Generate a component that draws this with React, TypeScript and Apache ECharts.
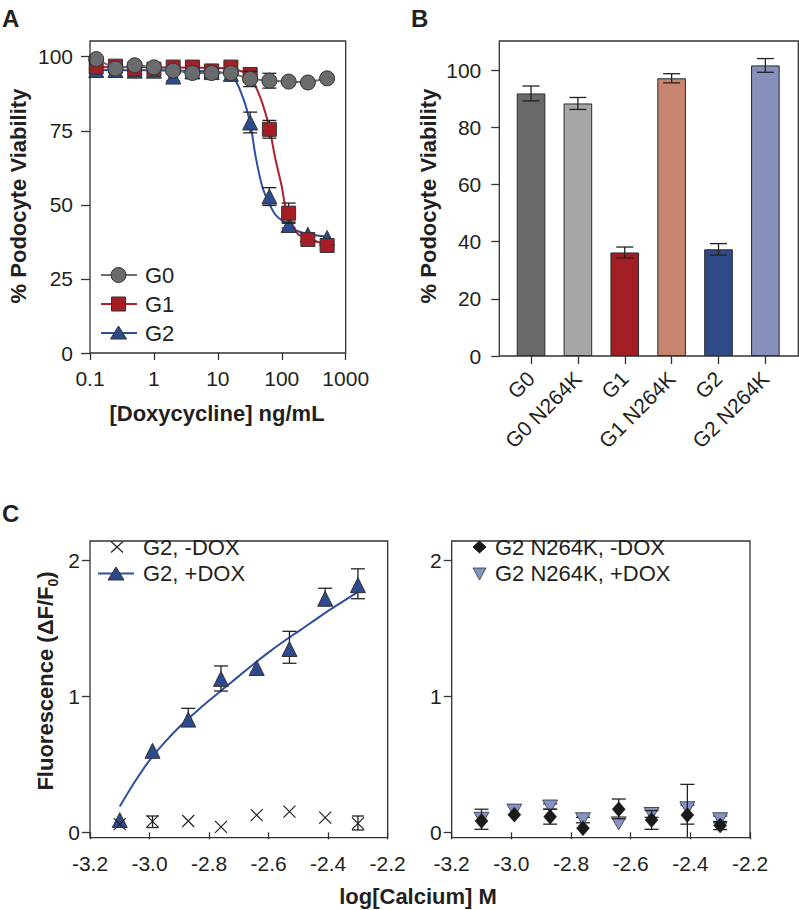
import React, { useEffect, useRef } from 'react';
import * as echarts from 'echarts';

// ---------- Panel A data ----------
const doses = [0.125, 0.25, 0.5, 1, 2, 4, 8, 16, 32, 64, 128, 256, 512];
const g0Viability = [99.2, 96.0, 97.1, 96.4, 95.3, 94.5, 94.5, 94.5, 92.5, 91.9, 91.6, 91.3, 92.7];
const g0Error = [0, 0, 0, 0, 0, 0, 0, 0, 2.6, 2.5, 0, 0, 0];
const g1Viability = [96.5, 96.8, 95.8, 95.8, 96.5, 96.5, 95.2, 96.5, 94.0, 75.5, 47.2, 38.3, 36.3];
const g1Error = [0, 0, 0, 0, 0, 0, 0, 0, 2.0, 3.0, 3.4, 0, 0];
const g2Viability = [95.5, 95.5, 95.3, 95.3, 93.3, 95.0, 94.8, 94.2, 77.8, 52.8, 43.2, 39.9, 38.8];
const g2Error = [0, 0, 0, 0, 1.5, 0, 0, 0, 3.5, 3.0, 1.0, 0, 0];
const g1FitDose = [0.1, 1, 10, 20, 32, 39, 49.5, 63, 80, 100, 114, 148, 184, 290, 512];
const g1FitViability = [96.5, 96.4, 96.2, 95.5, 93.6, 90, 84.4, 76.6, 65.2, 56.2, 49.4, 43.2, 39.9, 38.2, 36.5];
const g2FitDose = [0.1, 1, 5, 10, 16.7, 24.3, 32, 39, 49.5, 63, 80, 114, 184, 478];
const g2FitViability = [95.5, 95.4, 95.2, 94.8, 93.5, 86.6, 77.6, 66.3, 56.2, 50.6, 46.6, 43.9, 41, 39.3];
const doseTicks = ['0.1', '1', '10', '100', '1000'];

// ---------- Panel B data ----------
const bCategories = ['G0', 'G0 N264K', 'G1', 'G1 N264K', 'G2', 'G2 N264K'];
const bValues = [91.8, 88.3, 36.2, 97.1, 37.3, 101.6];
const bErrors = [2.6, 2.1, 1.9, 1.6, 2.0, 2.4];
const bColors = ['#69696b', '#a6a7a6', '#a11e25', '#c8856f', '#2e4a88', '#8690bb'];

// ---------- Panel C data ----------
const logCalcium = [-3.10, -2.99, -2.87, -2.76, -2.64, -2.53, -2.41, -2.30];
const g2NoDox = [0.06, 0.08, 0.083, 0.04, 0.127, 0.152, 0.108, 0.066];
const g2NoDoxLo = [null, 0.035, null, null, null, null, null, 0.017];
const g2NoDoxHi = [null, 0.12, null, null, null, null, null, 0.12];
const g2Dox = [0.09, 0.60, 0.83, 1.13, 1.21, 1.35, 1.72, 1.82];
const g2DoxLo = [null, null, 0.78, 1.04, null, 1.245, 1.67, 1.72];
const g2DoxHi = [null, null, 0.913, 1.225, null, 1.48, 1.797, 1.94];
const g2FitLogCa = [-3.10, -3.05, -3.00, -2.95, -2.90, -2.85, -2.80, -2.75, -2.70, -2.65, -2.60, -2.55, -2.50, -2.45, -2.40, -2.35, -2.30];
const g2FitFluor = [0.19, 0.37, 0.53, 0.66, 0.775, 0.875, 0.97, 1.06, 1.15, 1.24, 1.325, 1.405, 1.48, 1.555, 1.63, 1.70, 1.77];
const mutNoDox = [0.083, 0.13, 0.115, 0.03, 0.17, 0.09, 0.127, 0.05];
const mutNoDoxLo = [0.022, null, 0.06, null, 0.10, 0.022, -0.04, 0.02];
const mutNoDoxHi = [0.17, null, 0.17, null, 0.245, 0.16, 0.353, 0.08];
const mutDox = [0.10, 0.16, 0.19, 0.096, 0.066, 0.135, 0.177, 0.096];
const mutDoxLo = [null, null, 0.17, 0.07, null, 0.11, 0.06, 0.07];
const mutDoxHi = [null, null, 0.21, 0.11, null, 0.177, 0.20, 0.12];

const FONT = '"Liberation Sans", Arial, Helvetica, sans-serif';
const INK = '#231f20';
const AXIS = '#333333';
const TICK = 21;
const LEG = 22;
const TITLE = 22;

const zip = (xs: number[], ys: number[]) => xs.map((x, i) => [x, ys[i]]);
const errFromSym = (xs: number[], ys: number[], es: number[]) =>
  xs.map((x, i) => [x, ys[i] - es[i], ys[i] + es[i]]).filter((_, i) => es[i] > 0);
const errFromLoHi = (xs: number[], lo: (number | null)[], hi: (number | null)[]) =>
  xs.map((x, i) => [x, lo[i], hi[i]]).filter((d) => d[1] !== null && d[2] !== null);

const errRender = (capHalf: number) => (_p: any, api: any) => {
  const x = api.value(0);
  const lo = api.value(1);
  const hi = api.value(2);
  const a = api.coord([x, hi]);
  const b = api.coord([x, lo]);
  const st = { stroke: '#222', lineWidth: 1.3 };
  const children: any[] = [
    { type: 'line', shape: { x1: a[0], y1: a[1], x2: b[0], y2: b[1] }, style: st },
    { type: 'line', shape: { x1: a[0] - capHalf, y1: a[1], x2: a[0] + capHalf, y2: a[1] }, style: st },
  ];
  if (lo >= 0) {
    children.push({ type: 'line', shape: { x1: b[0] - capHalf, y1: b[1], x2: b[0] + capHalf, y2: b[1] }, style: st });
  }
  return { type: 'group', children };
};

const errSeries = (idx: number, data: any[], capHalf: number, z = 2) => ({
  type: 'custom',
  xAxisIndex: idx,
  yAxisIndex: idx,
  clip: false,
  z,
  renderItem: errRender(capHalf),
  encode: { x: 0, y: [1, 2] },
  data,
});

const tickLabel = (size = TICK) => ({ color: INK, fontSize: size, fontFamily: FONT });

const frame = (x0: number, y0: number, x1: number, y1: number) => ({
  type: 'rect',
  shape: { x: x0, y: y0, width: x1 - x0, height: y1 - y0 },
  style: { fill: 'none', stroke: AXIS, lineWidth: 1.3 },
  z: 100,
});

const txt = (text: string, x: number, y: number, size: number, opts: any = {}) => ({
  type: 'text',
  x,
  y,
  rotation: opts.rotation || 0,
  z: 100,
  style: {
    text,
    fontSize: size,
    fontWeight: opts.bold ? 'bold' : 'normal',
    fontFamily: FONT,
    fill: INK,
    align: opts.align || 'left',
    verticalAlign: 'middle',
  },
});

const CROSS = 'path://M0,0L10,10M10,0L0,10';
const DOWN_TRI = 'path://M0,0L10,0L5,9Z';

function buildOption(): any {
  const graphic: any[] = [
    frame(90, 41, 345.7, 353),
    frame(499.3, 41, 798.3, 356),
    frame(90, 541, 387.7, 837.7),
    frame(451.7, 541, 750, 837.7),
    txt('A', 2, 18.5, 24, { bold: true }),
    txt('B', 411, 18, 24, { bold: true }),
    txt('C', 2, 513, 24, { bold: true }),
    txt('% Podocyte Viability', 18, 196, TITLE, { bold: true, rotation: Math.PI / 2, align: 'center' }),
    txt('[Doxycycline] ng/mL', 217, 413, TITLE, { bold: true, align: 'center' }),
    txt('% Podocyte Viability', 428, 196, TITLE, { bold: true, rotation: Math.PI / 2, align: 'center' }),
    txt('log[Calcium] M', 418, 896, TITLE, { bold: true, align: 'center' }),
    {
      type: 'text',
      x: 44,
      y: 681,
      rotation: Math.PI / 2,
      z: 100,
      style: {
        text: '{a|Fluorescence (ΔF/F}{s|0}{a|)}',
        align: 'center',
        verticalAlign: 'middle',
        fill: INK,
        rich: {
          a: { fontSize: TITLE, fontWeight: 'bold', fontFamily: FONT, fill: INK, lineHeight: 25, verticalAlign: 'bottom' },
          s: { fontSize: 14, fontWeight: 'bold', fontFamily: FONT, fill: INK, lineHeight: 16, verticalAlign: 'bottom', padding: [0, 0, -3, 0] },
        },
      },
    },
    // Legend A
    { type: 'line', z: 100, shape: { x1: 101, y1: 275, x2: 137, y2: 275 }, style: { stroke: '#6e6e6e', lineWidth: 2 } },
    { type: 'circle', z: 101, shape: { cx: 118.5, cy: 275, r: 7.5 }, style: { fill: '#6a6b6d', stroke: '#333', lineWidth: 1 } },
    txt('G0', 145, 275, LEG),
    { type: 'line', z: 100, shape: { x1: 101, y1: 304, x2: 137, y2: 304 }, style: { stroke: '#b01f2b', lineWidth: 2 } },
    { type: 'rect', z: 101, shape: { x: 111.5, y: 297, width: 14, height: 14 }, style: { fill: '#a61d26', stroke: '#333', lineWidth: 1 } },
    txt('G1', 145, 304, LEG),
    { type: 'line', z: 100, shape: { x1: 101, y1: 333, x2: 137, y2: 333 }, style: { stroke: '#2d4f9e', lineWidth: 2 } },
    { type: 'polygon', z: 101, shape: { points: [[118.5, 326], [126.5, 339], [110.5, 339]] }, style: { fill: '#2c4a8e', stroke: '#333', lineWidth: 1 } },
    txt('G2', 145, 333, LEG),
    // Legend C left
    { type: 'line', z: 100, shape: { x1: 111, y1: 541.5, x2: 123, y2: 552.5 }, style: { stroke: '#222', lineWidth: 1.2 } },
    { type: 'line', z: 100, shape: { x1: 123, y1: 541.5, x2: 111, y2: 552.5 }, style: { stroke: '#222', lineWidth: 1.2 } },
    txt('G2, -DOX', 143, 547, LEG),
    { type: 'line', z: 100, shape: { x1: 98, y1: 573.5, x2: 134, y2: 573.5 }, style: { stroke: '#2d4f9e', lineWidth: 2 } },
    { type: 'polygon', z: 101, shape: { points: [[116, 567], [124, 580], [108, 580]] }, style: { fill: '#2c4a8e', stroke: '#333', lineWidth: 1 } },
    txt('G2, +DOX', 143, 573.5, LEG),
    // Legend C right
    { type: 'polygon', z: 101, shape: { points: [[479.5, 541], [486, 547], [479.5, 553], [473, 547]] }, style: { fill: '#1a1a1a', stroke: '#1a1a1a', lineWidth: 1 } },
    txt('G2 N264K, -DOX', 495, 547, LEG),
    { type: 'polygon', z: 101, shape: { points: [[473, 568], [486, 568], [479.5, 580]] }, style: { fill: '#8493c6', stroke: '#333', lineWidth: 0.8 } },
    txt('G2 N264K, +DOX', 495, 573.5, LEG),
  ];

  const cXAxis = (gi: number) => ({
    gridIndex: gi,
    type: 'value',
    min: -3.2,
    max: -2.2,
    interval: 0.2,
    offset: 5.4,
    axisLine: { show: false },
    axisTick: { show: true, length: 7, lineStyle: { color: AXIS, width: 1.3 } },
    axisLabel: { ...tickLabel(), margin: 15, formatter: (v: number) => v.toFixed(1) },
    splitLine: { show: false },
  });
  const cYAxis = (gi: number) => ({
    gridIndex: gi,
    type: 'value',
    min: 0,
    max: 2,
    interval: 1,
    axisLine: { show: false },
    axisTick: { show: true, length: 8, lineStyle: { color: AXIS, width: 1.3 } },
    axisLabel: { ...tickLabel(), margin: 10 },
    splitLine: { show: false },
  });

  return {
    animation: false,
    backgroundColor: '#ffffff',
    textStyle: { fontFamily: FONT },
    grid: [
      { left: 90, top: 56.7, width: 255.7, height: 296.3 },
      { left: 507.6, top: 70, width: 281.2, height: 286 },
      { left: 90, top: 560.7, width: 297.7, height: 271.6 },
      { left: 451.7, top: 560.7, width: 298.3, height: 271.6 },
    ],
    xAxis: [
      {
        gridIndex: 0,
        type: 'log',
        logBase: 10,
        min: 0.1,
        max: 1000,
        axisLine: { show: false },
        axisTick: { show: true, length: 7, lineStyle: { color: AXIS, width: 1.3 } },
        axisLabel: {
          ...tickLabel(),
          margin: 15,
          formatter: (v: number) => {
            const k = Math.round(Math.log10(v)) + 1;
            return doseTicks[k] ?? String(v);
          },
        },
        splitLine: { show: false },
        minorTick: { show: false },
      },
      {
        gridIndex: 1,
        type: 'category',
        data: bCategories,
        axisLine: { show: false },
        axisTick: { show: true, alignWithLabel: true, length: 8, lineStyle: { color: AXIS, width: 1.3 } },
        axisLabel: { ...tickLabel(), rotate: 45, margin: 19, interval: 0 },
        splitLine: { show: false },
      },
      cXAxis(2),
      cXAxis(3),
    ],
    yAxis: [
      {
        gridIndex: 0,
        type: 'value',
        min: 0,
        max: 100,
        interval: 25,
        axisLine: { show: false },
        axisTick: { show: true, length: 9, lineStyle: { color: AXIS, width: 1.3 } },
        axisLabel: { ...tickLabel(), margin: 17 },
        splitLine: { show: false },
      },
      {
        gridIndex: 1,
        type: 'value',
        min: 0,
        max: 100,
        interval: 20,
        offset: 8.3,
        axisLine: { show: false },
        axisTick: { show: true, length: 8, lineStyle: { color: AXIS, width: 1.3 } },
        axisLabel: { ...tickLabel(), margin: 18 },
        splitLine: { show: false },
      },
      cYAxis(2),
      cYAxis(3),
    ],
    graphic,
    series: [
      // Panel A
      {
        name: 'G2 fit', type: 'line', xAxisIndex: 0, yAxisIndex: 0, data: zip(g2FitDose, g2FitViability),
        smooth: 0.35, symbol: 'none', clip: false, lineStyle: { color: '#2d4f9e', width: 2 }, z: 2,
      },
      {
        name: 'G1 fit', type: 'line', xAxisIndex: 0, yAxisIndex: 0, data: zip(g1FitDose, g1FitViability),
        smooth: 0.35, symbol: 'none', clip: false, lineStyle: { color: '#b01f2b', width: 2 }, z: 2,
      },
      errSeries(0, errFromSym(doses, g2Viability, g2Error), 7, 3),
      {
        name: 'G2', type: 'scatter', xAxisIndex: 0, yAxisIndex: 0, data: zip(doses, g2Viability),
        symbol: 'triangle', symbolSize: 15, clip: false, z: 4,
        itemStyle: { color: '#2c4a8e', borderColor: '#333', borderWidth: 1, opacity: 1 },
      },
      errSeries(0, errFromSym(doses, g1Viability, g1Error), 7, 5),
      {
        name: 'G1', type: 'scatter', xAxisIndex: 0, yAxisIndex: 0, data: zip(doses, g1Viability),
        symbol: 'rect', symbolSize: 14, clip: false, z: 6,
        itemStyle: { color: '#a61d26', borderColor: '#333', borderWidth: 1, opacity: 1 },
      },
      errSeries(0, errFromSym(doses, g0Viability, g0Error), 7, 7),
      {
        name: 'G0', type: 'line', xAxisIndex: 0, yAxisIndex: 0, data: zip(doses, g0Viability),
        symbol: 'circle', symbolSize: 15, showAllSymbol: true, clip: false, z: 8,
        lineStyle: { color: '#6e6e6e', width: 2 },
        itemStyle: { color: '#6a6b6d', borderColor: '#333', borderWidth: 1 },
      },
      // Panel B
      {
        name: 'Viability', type: 'bar', xAxisIndex: 1, yAxisIndex: 1, barWidth: 28.6, clip: false, z: 2,
        data: bValues.map((v, i) => ({ value: v, itemStyle: { color: bColors[i], borderColor: '#2a2a2a', borderWidth: 1 } })),
      },
      errSeries(1, bValues.map((v, i) => [i, v - bErrors[i], v + bErrors[i]]), 8.5, 3),
      // Panel C left
      {
        name: 'G2, +DOX fit', type: 'line', xAxisIndex: 2, yAxisIndex: 2, data: zip(g2FitLogCa, g2FitFluor),
        smooth: 0.3, symbol: 'none', clip: false, lineStyle: { color: '#2d4f9e', width: 2 }, z: 2,
      },
      errSeries(2, errFromLoHi(logCalcium, g2DoxLo, g2DoxHi), 7, 3),
      {
        name: 'G2, +DOX', type: 'scatter', xAxisIndex: 2, yAxisIndex: 2, data: zip(logCalcium, g2Dox),
        symbol: 'triangle', symbolSize: 15, clip: false, z: 4,
        itemStyle: { color: '#2c4a8e', borderColor: '#333', borderWidth: 1, opacity: 1 },
      },
      errSeries(2, errFromLoHi(logCalcium, g2NoDoxLo, g2NoDoxHi), 6, 5),
      {
        name: 'G2, -DOX', type: 'scatter', xAxisIndex: 2, yAxisIndex: 2, data: zip(logCalcium, g2NoDox),
        symbol: CROSS, symbolSize: 12, clip: false, z: 6,
        itemStyle: { color: 'transparent', borderColor: '#222', borderWidth: 1.2, opacity: 1 },
      },
      // Panel C right
      errSeries(3, errFromLoHi(logCalcium, mutDoxLo, mutDoxHi), 7, 3),
      {
        name: 'G2 N264K, +DOX', type: 'scatter', xAxisIndex: 3, yAxisIndex: 3, data: zip(logCalcium, mutDox),
        symbol: DOWN_TRI, symbolSize: [15, 13], clip: false, z: 4,
        itemStyle: { color: '#8493c6', borderColor: '#333', borderWidth: 0.8, opacity: 1 },
      },
      errSeries(3, errFromLoHi(logCalcium, mutNoDoxLo, mutNoDoxHi), 7, 5),
      {
        name: 'G2 N264K, -DOX', type: 'scatter', xAxisIndex: 3, yAxisIndex: 3, data: zip(logCalcium, mutNoDox),
        symbol: 'diamond', symbolSize: [13, 15], clip: false, z: 6,
        itemStyle: { color: '#1a1a1a', borderColor: '#1a1a1a', borderWidth: 0.5, opacity: 1 },
      },
    ],
  };
}

export default function App() {
  const ref = useRef<HTMLDivElement>(null);
  useEffect(() => {
    document.body.style.margin = '0';
    const chart = echarts.init(ref.current!, null, { renderer: 'svg' });
    chart.setOption(buildOption());
    return () => chart.dispose();
  }, []);
  return <div ref={ref} style={{ width: 799, height: 910 }} />;
}
